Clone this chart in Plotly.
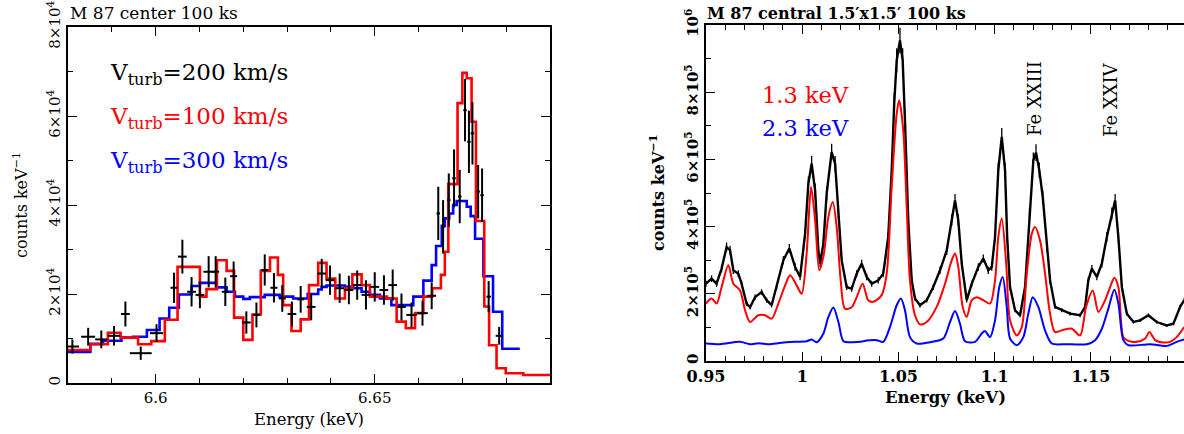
import plotly.graph_objects as go

W, H = 1184, 434

# ---------------- Left panel: M 87 center (Fe XXV He-alpha region) ----------------
red_edges = [6.5800, 6.5851, 6.5891, 6.5920, 6.5960, 6.5990, 6.6021, 6.6050, 6.6101, 6.6116,
             6.6140, 6.6162, 6.6179, 6.6200, 6.6221, 6.6240, 6.6261, 6.6279, 6.6291, 6.6310,
             6.6331, 6.6350, 6.6371, 6.6390, 6.6410, 6.6432, 6.6449, 6.6470, 6.6489, 6.6528,
             6.6550, 6.6571, 6.6592, 6.6611, 6.6631, 6.6651, 6.6660, 6.6668, 6.6689, 6.6700,
             6.6710, 6.6721, 6.6731, 6.6750, 6.6761, 6.6778, 6.6799, 6.6839, 6.6900]
red_vals = [0.74, 0.87, 1.13, 1.02, 0.87, 0.94, 1.42, 2.61, 1.94, 2.11,
            2.76, 2.52, 1.47, 0.97, 1.54, 2.52, 2.82, 2.43, 1.75, 1.17,
            1.43, 2.20, 2.70, 2.35, 1.90, 2.13, 2.44, 2.20, 1.94, 1.90,
            1.38, 1.23, 1.57, 1.94, 2.13, 2.43, 2.95, 4.47, 6.29, 6.97,
            6.85, 5.87, 3.64, 1.72, 0.85, 0.33, 0.22, 0.18]

blue_edges = [6.5800, 6.5851, 6.5880, 6.5922, 6.5948, 6.5980, 6.6009, 6.6031, 6.6053, 6.6082,
              6.6101, 6.6139, 6.6162, 6.6181, 6.6200, 6.6215, 6.6249, 6.6283, 6.6314, 6.6347,
              6.6371, 6.6379, 6.6390, 6.6432, 6.6451, 6.6470, 6.6489, 6.6512, 6.6538, 6.6588,
              6.6611, 6.6630, 6.6640, 6.6653, 6.6660, 6.6670, 6.6679, 6.6687, 6.6710, 6.6719,
              6.6729, 6.6748, 6.6770, 6.6791, 6.6831]
blue_vals = [0.70, 0.88, 0.95, 1.02, 1.04, 1.19, 1.45, 1.69, 1.99, 2.18,
             2.25, 2.15, 2.05, 1.94, 1.89, 1.93, 1.98, 1.94, 1.90, 2.00,
             2.10, 2.16, 2.19, 2.16, 2.13, 2.05, 1.98, 1.90, 1.75, 1.94,
             2.30, 2.65, 3.08, 3.53, 3.70, 3.81, 4.00, 4.09, 3.96, 3.75,
             3.24, 2.40, 1.60, 0.77]

data_e = [6.5810, 6.5846, 6.5876, 6.5905, 6.5931, 6.5966, 6.6002, 6.6042, 6.6061, 6.6082,
          6.6101, 6.6121, 6.6137, 6.6159, 6.6178, 6.6207, 6.6230, 6.6249, 6.6270, 6.6289,
          6.6311, 6.6331, 6.6355, 6.6379, 6.6398, 6.6420, 6.6441, 6.6460, 6.6480, 6.6500,
          6.6521, 6.6541, 6.6561, 6.6584, 6.6609, 6.6630, 6.6645, 6.6656, 6.6669, 6.6681,
          6.6694, 6.6706, 6.6715, 6.6723, 6.6736, 6.6745, 6.6760, 6.6784]
data_v = [0.82, 1.04, 0.98, 1.06, 1.55, 0.67, 1.12, 2.14, 2.84, 2.05,
          1.98, 2.50, 2.50, 2.05, 2.40, 1.36, 1.53, 2.54, 2.14, 1.90,
          1.55, 1.88, 1.71, 2.46, 2.31, 2.13, 2.09, 2.20, 1.98, 2.16,
          2.09, 2.20, 1.71, 1.53, 1.57, 1.96, 3.81, 3.51, 4.11, 4.60,
          4.19, 6.13, 5.42, 5.61, 4.30, 4.22, 1.94, 1.06]
data_xerr = [0.0015, 0.0016, 0.0014, 0.0014, 0.0010, 0.0025, 0.0015, 0.0008, 0.0010, 0.0010,
             0.0010, 0.0012, 0.0008, 0.0008, 0.0008, 0.0010, 0.0008, 0.0008, 0.0008, 0.0008,
             0.0010, 0.0008, 0.0010, 0.0010, 0.0010, 0.0010, 0.0010, 0.0010, 0.0010, 0.0010,
             0.0010, 0.0010, 0.0010, 0.0012, 0.0012, 0.0010, 0.0004, 0.0004, 0.0004, 0.0004,
             0.0004, 0.0004, 0.0004, 0.0004, 0.0004, 0.0004, 0.0005, 0.0008]
data_yerr = [0.16, 0.20, 0.20, 0.22, 0.28, 0.15, 0.20, 0.34, 0.38, 0.33,
             0.30, 0.35, 0.35, 0.32, 0.33, 0.25, 0.28, 0.35, 0.33, 0.30,
             0.28, 0.30, 0.30, 0.33, 0.33, 0.33, 0.32, 0.33, 0.33, 0.33,
             0.33, 0.35, 0.30, 0.28, 0.28, 0.30, 0.60, 0.60, 0.60, 0.65,
             0.60, 0.70, 0.70, 0.70, 0.60, 0.60, 0.35, 0.20]
left_scale = 1e4
left_yticks = [0, 2e4, 4e4, 6e4, 8e4]
left_yticktext = ["0", "2×10<sup>4</sup>", "4×10<sup>4</sup>", "6×10<sup>4</sup>", "8×10<sup>4</sup>"]
left_xticks = [6.6, 6.65]
left_xticktext = ["6.6", "6.65"]

# ---------------- Right panel: M 87 central 1.5'x1.5' (Fe L region) ----------------
obs_e = [0.9500, 0.9529, 0.9555, 0.9581, 0.9607, 0.9625, 0.9642, 0.9668, 0.9685, 0.9711,
         0.9729, 0.9755, 0.9789, 0.9815, 0.9841, 0.9867, 0.9902, 0.9933, 0.9963, 0.9989,
         1.0015, 1.0032, 1.0049, 1.0067, 1.0084, 1.0093, 1.0110, 1.0127, 1.0153, 1.0171,
         1.0188, 1.0205, 1.0231, 1.0257, 1.0283, 1.0309, 1.0335, 1.0361, 1.0395, 1.0421,
         1.0447, 1.0465, 1.0478, 1.0491, 1.0508, 1.0522, 1.0534, 1.0551, 1.0569, 1.0586,
         1.0612, 1.0647, 1.0681, 1.0716, 1.0751, 1.0777, 1.0794, 1.0811, 1.0829, 1.0855,
         1.0881, 1.0915, 1.0941, 1.0967, 1.0985, 1.1002, 1.1019, 1.1037, 1.1054, 1.1065,
         1.1080, 1.1106, 1.1132, 1.1158, 1.1181, 1.1201, 1.1215, 1.1232, 1.1250, 1.1271,
         1.1288, 1.1314, 1.1349, 1.1392, 1.1444, 1.1470, 1.1487, 1.1505, 1.1531, 1.1557,
         1.1583, 1.1609, 1.1626, 1.1643, 1.1661, 1.1687, 1.1721, 1.1756, 1.1799, 1.1842,
         1.1894, 1.1929, 1.1964, 1.1985]
obs_v = [2.30, 2.45, 2.30, 2.75, 3.39, 3.30, 2.70, 2.60, 2.30, 1.71,
         1.60, 1.90, 2.05, 1.81, 1.66, 2.20, 3.00, 3.35, 2.80, 2.50,
         3.79, 5.28, 5.87, 5.08, 3.29, 2.90, 3.49, 4.98, 6.22, 5.87,
         4.39, 3.00, 2.20, 2.15, 2.60, 2.90, 2.50, 2.30, 2.40, 2.60,
         3.69, 5.68, 7.66, 8.95, 9.54, 8.95, 7.16, 4.19, 2.40, 1.86,
         1.66, 1.81, 2.20, 2.70, 3.29, 4.19, 4.78, 4.19, 2.90, 1.81,
         2.30, 2.80, 3.05, 2.70, 2.80, 3.69, 5.68, 6.67, 5.68, 3.69,
         2.20, 1.51, 1.36, 2.20, 4.39, 5.97, 6.20, 5.68, 4.88, 3.39,
         2.40, 1.61, 1.51, 1.41, 1.36, 1.61, 2.40, 2.75, 2.50, 2.90,
         3.69, 4.39, 4.78, 3.69, 2.20, 1.41, 1.16, 1.21, 1.36, 1.16,
         1.06, 1.11, 1.61, 1.81]

t13_e = [0.9500, 0.9529, 0.9555, 0.9581, 0.9616, 0.9642, 0.9677, 0.9703, 0.9729, 0.9772,
         0.9807, 0.9841, 0.9876, 0.9911, 0.9937, 0.9971, 0.9997, 1.0023, 1.0046, 1.0067,
         1.0089, 1.0110, 1.0136, 1.0159, 1.0179, 1.0200, 1.0222, 1.0257, 1.0283, 1.0314,
         1.0343, 1.0369, 1.0413, 1.0439, 1.0465, 1.0491, 1.0504, 1.0525, 1.0543, 1.0560,
         1.0586, 1.0612, 1.0647, 1.0699, 1.0742, 1.0777, 1.0794, 1.0811, 1.0834, 1.0855,
         1.0881, 1.0907, 1.0941, 1.0976, 1.1002, 1.1019, 1.1037, 1.1060, 1.1080, 1.1115,
         1.1141, 1.1167, 1.1193, 1.1210, 1.1236, 1.1262, 1.1288, 1.1314, 1.1357, 1.1401,
         1.1444, 1.1475, 1.1510, 1.1539, 1.1574, 1.1600, 1.1622, 1.1643, 1.1669, 1.1695,
         1.1739, 1.1782, 1.1804, 1.1834, 1.1877, 1.1912, 1.1946, 1.1985]
t13_v = [1.71, 1.86, 1.71, 2.20, 2.85, 2.30, 2.10, 1.51, 1.16, 1.36,
         1.36, 1.26, 1.71, 2.25, 2.55, 2.25, 2.00, 3.20, 5.18, 4.19,
         2.70, 3.10, 4.29, 4.73, 3.99, 2.40, 1.56, 1.60, 1.90, 2.30,
         1.81, 1.76, 1.96, 2.60, 5.18, 7.36, 7.76, 6.87, 4.58, 2.40,
         1.36, 1.09, 1.16, 1.61, 2.30, 3.00, 3.20, 2.80, 1.61, 1.31,
         1.81, 1.90, 1.81, 1.71, 2.40, 3.69, 4.24, 2.90, 1.21, 0.76,
         1.01, 2.60, 3.79, 3.99, 3.59, 2.60, 1.41, 0.86, 0.93, 0.96,
         0.76, 1.61, 2.10, 1.46, 1.81, 2.20, 2.48, 2.20, 0.71, 0.60,
         0.57, 0.67, 0.86, 0.62, 0.55, 0.57, 0.71, 1.01]

t23_e = [0.9500, 0.9573, 0.9677, 0.9729, 0.9772, 0.9833, 0.9919, 1.0023, 1.0049, 1.0075,
         1.0110, 1.0136, 1.0162, 1.0188, 1.0214, 1.0249, 1.0301, 1.0317, 1.0387, 1.0421,
         1.0456, 1.0491, 1.0513, 1.0534, 1.0560, 1.0595, 1.0664, 1.0733, 1.0768, 1.0794,
         1.0820, 1.0846, 1.0898, 1.0933, 1.0950, 1.0976, 1.1002, 1.1024, 1.1042, 1.1063,
         1.1080, 1.1115, 1.1149, 1.1175, 1.1198, 1.1227, 1.1262, 1.1297, 1.1375, 1.1479,
         1.1522, 1.1557, 1.1591, 1.1622, 1.1643, 1.1669, 1.1695, 1.1808, 1.1894, 1.1946,
         1.1985]
t23_v = [0.52, 0.50, 0.57, 0.50, 0.53, 0.50, 0.56, 0.59, 0.64, 0.56,
         0.82, 1.31, 1.59, 1.16, 0.59, 0.56, 0.57, 0.59, 0.62, 0.57,
         1.01, 1.66, 1.86, 1.51, 0.71, 0.52, 0.56, 0.67, 1.16, 1.49,
         1.11, 0.59, 0.57, 0.82, 0.89, 0.71, 1.21, 2.20, 2.50, 1.60,
         0.67, 0.47, 0.71, 1.41, 1.90, 1.61, 0.91, 0.52, 0.50, 0.50,
         0.62, 0.96, 1.56, 2.12, 1.71, 0.62, 0.47, 0.50, 0.45, 0.57,
         0.64]
right_scale = 1e5
right_yticks = [0, 2e5, 4e5, 6e5, 8e5, 1e6]
right_yticktext = ["0", "2×10<sup>5</sup>", "4×10<sup>5</sup>", "6×10<sup>5</sup>",
                   "8×10<sup>5</sup>", "10<sup>6</sup>"]
right_xticks = [0.95, 1.0, 1.05, 1.1, 1.15]
right_xticktext = ["0.95", "1", "1.05", "1.1", "1.15"]

# ---------------- figure ----------------
SERIF = "DejaVu Serif"
fig = go.Figure()

def px_x(p):
    return p / W

def px_y(p):
    return 1 - p / H

fig.add_trace(go.Scatter(
    x=blue_edges, y=[v * left_scale for v in blue_vals] + [blue_vals[-1] * left_scale],
    mode="lines", line=dict(color="#0000ff", width=2.6, shape="hv"),
    xaxis="x", yaxis="y", showlegend=False, hoverinfo="skip"))
fig.add_trace(go.Scatter(
    x=red_edges, y=[v * left_scale for v in red_vals] + [red_vals[-1] * left_scale],
    mode="lines", line=dict(color="#ff0000", width=2.6, shape="hv"),
    xaxis="x", yaxis="y", showlegend=False, hoverinfo="skip"))
fig.add_trace(go.Scatter(
    x=data_e, y=[v * left_scale for v in data_v], mode="markers",
    marker=dict(color="black", size=2),
    error_x=dict(type="data", array=data_xerr, color="black", thickness=2, width=0),
    error_y=dict(type="data", array=[e * left_scale for e in data_yerr], color="black", thickness=2, width=0),
    xaxis="x", yaxis="y", showlegend=False))

fig.add_trace(go.Scatter(
    x=obs_e, y=[v * right_scale for v in obs_v], mode="lines",
    line=dict(color="black", width=2.4),
    error_y=dict(type="percent", value=4, color="black", thickness=1.3, width=0),
    xaxis="x2", yaxis="y2", showlegend=False))
fig.add_trace(go.Scatter(
    x=t13_e, y=[v * right_scale for v in t13_v], mode="lines",
    line=dict(color="#ff0000", width=2, shape="spline", smoothing=0.8),
    xaxis="x2", yaxis="y2", showlegend=False))
fig.add_trace(go.Scatter(
    x=t23_e, y=[v * right_scale for v in t23_v], mode="lines",
    line=dict(color="#0000ff", width=2, shape="spline", smoothing=0.8),
    xaxis="x2", yaxis="y2", showlegend=False))

axis_common = dict(showgrid=False, zeroline=False, showline=True, linecolor="black",
                   linewidth=1.5, ticks="inside", tickcolor="black", tickwidth=1.2,
                   automargin=False)

fig.update_layout(
    width=W, height=H, margin=dict(l=0, r=0, t=0, b=0, autoexpand=False),
    paper_bgcolor="white", plot_bgcolor="white",
    xaxis=dict(domain=[px_x(68), px_x(550)], range=[6.58, 6.69], anchor="y",
               tickmode="array", tickvals=left_xticks, ticktext=left_xticktext, ticklen=9,
               mirror="ticks", tickfont=dict(family=SERIF, size=15, color="black"),
               minor=dict(tickmode="linear", tick0=6.58, dtick=0.01, ticks="inside", ticklen=5,
                          tickcolor="black", tickwidth=1.2),
               **axis_common),
    yaxis=dict(domain=[px_y(383), px_y(27)], range=[0, 8e4], anchor="x",
               tickmode="array", tickvals=left_yticks, ticktext=left_yticktext, ticklen=9,
               tickangle=-90, mirror="ticks", tickfont=dict(family=SERIF, size=15, color="black"),
               minor=dict(tickmode="linear", tick0=0, dtick=1e4, ticks="inside", ticklen=5,
                          tickcolor="black", tickwidth=1.2),
               **axis_common),
    xaxis2=dict(domain=[px_x(706), 1.0], range=[0.95, 1.1984], anchor="y2",
                tickmode="array", tickvals=right_xticks, ticktext=right_xticktext, ticklen=9,
                mirror="ticks", tickfont=dict(family=SERIF, size=16, color="black", weight="bold"),
                minor=dict(tickmode="linear", tick0=0.95, dtick=0.01, ticks="inside", ticklen=5,
                           tickcolor="black", tickwidth=1.2),
                **axis_common),
    yaxis2=dict(domain=[px_y(361), px_y(25)], range=[0, 1e6], anchor="x2",
                tickmode="array", tickvals=right_yticks, ticktext=right_yticktext, ticklen=9,
                tickangle=-90, mirror=False, tickfont=dict(family=SERIF, size=15, color="black", weight="bold"),
                minor=dict(tickmode="linear", tick0=0, dtick=1e5, ticks="inside", ticklen=5,
                           tickcolor="black", tickwidth=1.2),
                **axis_common),
    yaxis3=dict(overlaying="y2", anchor="x2", side="right", range=[0, 1e6], automargin=False,
                showgrid=False, zeroline=False, showline=False, showticklabels=False,
                ticks="inside", ticklen=9, tickcolor="black", tickwidth=1.2,
                tickmode="array", tickvals=right_yticks,
                minor=dict(tickmode="linear", tick0=0, dtick=1e5, ticks="inside", ticklen=5,
                           tickcolor="black", tickwidth=1.2)),
)

ann = []
def text(x, y, s, size, color="black", xanchor="left", yanchor="middle", angle=0, bold=False):
    ann.append(dict(x=px_x(x), y=px_y(y), xref="paper", yref="paper", text=s, showarrow=False,
                    xanchor=xanchor, yanchor=yanchor, textangle=angle,
                    font=dict(family=SERIF, size=size, color=color, weight="bold" if bold else "normal")))

# left panel texts
text(68, 13, "M 87 center 100 ks", 17)
text(20, 205, "counts keV<sup>−1</sup>", 16, xanchor="center", angle=-90)
text(309, 419, "Energy (keV)", 16.5, xanchor="center")
text(108, 74, "V<sub>turb</sub>=200 km/s", 23, color="black")
text(108, 118, "V<sub>turb</sub>=100 km/s", 23, color="#ff0000")
text(108, 162, "V<sub>turb</sub>=300 km/s", 23, color="#0000ff")

# right panel texts
text(705, 13, "M 87 central 1.5′x1.5′ 100 ks", 16, bold=True)
text(657, 193, "counts keV<sup>−1</sup>", 16, xanchor="center", angle=-90, bold=True)
text(945, 397, "Energy (keV)", 16.5, xanchor="center", bold=True)
text(760, 95, "1.3 keV", 22.5, color="#ff0000")
text(760, 128, "2.3 keV", 22.5, color="#0000ff")
text(1035, 99, "Fe XXIII", 18, xanchor="center", angle=-90)
text(1110, 100, "Fe XXIV", 18, xanchor="center", angle=-90)

fig.update_layout(annotations=ann)
fig.write_html("out.html")
